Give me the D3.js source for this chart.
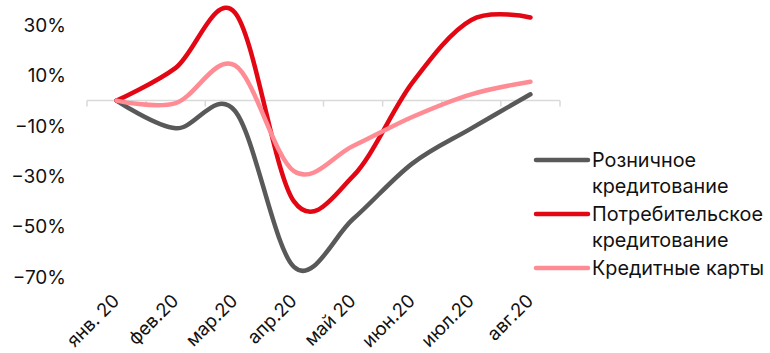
<!DOCTYPE html>
<html>
<head>
<meta charset="utf-8">
<script src="https://cdn.jsdelivr.net/npm/d3@7"></script>
<style>
  body { margin: 0; background: #fff; }
  svg { font-family: Inter, Roboto, "Noto Sans", sans-serif; }
</style>
</head>
<body>
<div id="chart"></div>
<script>
const months = ["янв. 20", "фев.20", "мар.20", "апр.20", "май 20", "июн.20", "июл.20", "авг.20"];
const retail   = [0, -0.11, -0.04, -0.66, -0.47, -0.25, -0.11, 0.025];
const consumer = [0, 0.13, 0.35, -0.40, -0.30, 0.07, 0.32, 0.33];
const cards    = [0, -0.01, 0.14, -0.28, -0.18, -0.065, 0.025, 0.075];
const yTicks = [0.3, 0.1, -0.1, -0.3, -0.5, -0.7];

const seriesList = [
  { name: ["Розничное", "кредитование"], values: retail, color: "#595959" },
  { name: ["Потребительское", "кредитование"], values: consumer, color: "#e30613" },
  { name: ["Кредитные карты"], values: cards, color: "#ff8c94" }
];

const W = 770, H = 353;
const svg = d3.select("#chart").append("svg")
  .attr("width", W).attr("height", H);

const x = d3.scaleBand().domain(months).range([87, 560]);
const y = d3.scaleLinear().domain([-0.7, 0.3]).range([277, 25]);
const cx = m => x(m) + x.bandwidth() / 2;

// zero axis with ticks between categories
const axis = svg.append("g").attr("stroke", "#d9d9d9").attr("stroke-width", 1.5);
axis.append("line")
  .attr("x1", x.range()[0]).attr("x2", x.range()[1])
  .attr("y1", y(0)).attr("y2", y(0));
const bounds = months.map(m => x(m)).concat([x.range()[1]]);
axis.selectAll("line.tick").data(bounds).join("line")
  .attr("class", "tick")
  .attr("x1", d => d).attr("x2", d => d)
  .attr("y1", y(0)).attr("y2", y(0) + 6);

// y labels
svg.append("g").selectAll("text").data(yTicks).join("text")
  .attr("x", 66).attr("y", d => y(d))
  .attr("dy", "0.36em")
  .attr("text-anchor", "end")
  .attr("font-size", 19)
  .attr("fill", "#111")
  .text(d3.format(".0%"));

// x labels
svg.append("g").selectAll("text").data(months).join("text")
  .attr("transform", d => `translate(${cx(d) + 4},${302}) rotate(-45)`)
  .attr("text-anchor", "end")
  .attr("font-size", 18.5)
  .attr("fill", "#111")
  .text(d => d);

const line = d3.line()
  .x((d, i) => cx(months[i]))
  .y(d => y(d))
  .curve(d3.curveCardinal.tension(0));

svg.append("g").selectAll("path").data(seriesList).join("path")
  .attr("d", d => line(d.values))
  .attr("fill", "none")
  .attr("stroke", d => d.color)
  .attr("stroke-width", 4.5)
  .attr("stroke-linecap", "round")
  .attr("stroke-linejoin", "round");

// legend
const legendY = [160, 214, 268];
const legend = svg.append("g");
seriesList.forEach((s, i) => {
  const g = legend.append("g").attr("transform", `translate(0,${legendY[i]})`);
  g.append("line")
    .attr("x1", 536).attr("x2", 588)
    .attr("stroke", s.color).attr("stroke-width", 4.5)
    .attr("stroke-linecap", "round");
  s.name.forEach((t, j) => {
    g.append("text")
      .attr("x", 592).attr("y", j * 26)
      .attr("dy", "0.36em")
      .attr("font-size", 19.8)
      .attr("fill", "#111")
      .text(t);
  });
});
</script>
</body>
</html>
